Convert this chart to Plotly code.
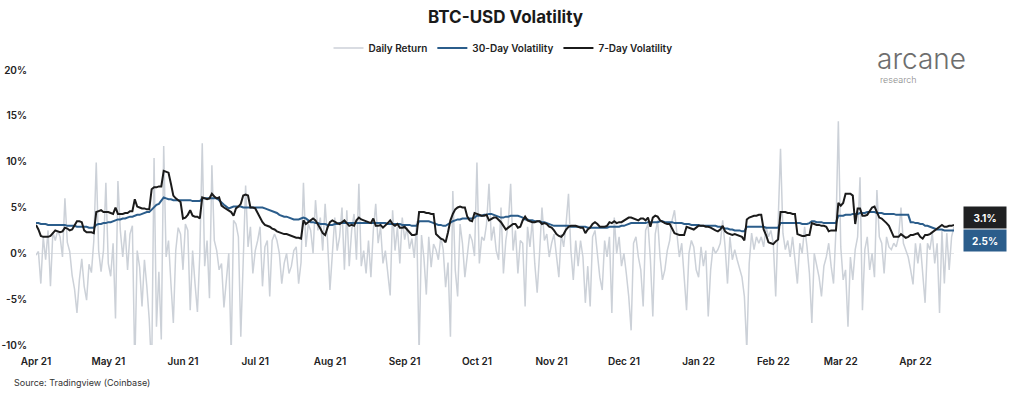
import pandas as pd
import plotly.graph_objects as go

start_date = "2021-04-01"

# Daily return (%), one value per day, Apr 2021 -> mid Apr 2022
daily_return = [
    # Apr 21
    -0.2, 0.2, -3.3, 1.8, -0.7, 2.5, -3.6, 2.3, 1.4, 2.5, 1.8, -0.4, 6.0, 1.2, 0.2,
    -2.4, -3.9, -6.5, -2.9, -0.6, -3.6, -5.1, -1.2, -2.1, 1.4, 9.9, 0.3, -2.0, 0.3, 7.7,
    # May 21
    -1.1, -2.5, 1.1, -7.1, 7.9, 2.5, -0.4, 2.5, -1.8, 2.1, 3.0, -12.5, 0.3, -1.5, -5.8,
    -0.7, -3.6, -7.2, -13.0, 10.4, -8.0, -2.0, -9.4, 11.7, -0.4, 1.4, -3.3, -7.6, 0.3, 2.8, 2.1,
    # Jun 21
    -1.8, 3.2, 2.5, -6.2, 0.3, -3.3, -6.4, 0.0, 12.0, -1.4, 1.4, -4.9, 9.6, 1.4, 0.3,
    -1.8, -1.1, -5.9, -2.9, 0.0, -11.0, 3.6, 3.2, 1.8, -9.1, -0.7, 7.4, 0.7, 2.9, -2.2,
    # Jul 21
    0.3, 1.4, 2.9, -3.6, 0.7, 1.4, -4.7, 1.4, 2.1, 1.4, 0.0, -3.3, -1.1, 0.0, -2.2,
    -1.4, 0.3, 0.7, -3.3, -1.0, 7.7, 0.7, 3.2, 2.5, 0.0, 5.8, 2.5, 3.9, 0.3, 5.4, 1.4,
    # Aug 21
    -4.0, 0.3, 3.9, 0.3, 1.8, 5.0, -1.8, 4.7, -1.4, 2.5, 4.3, -0.7, 7.6, -1.4, 0.3,
    -2.2, 1.4, -2.6, 2.5, 5.4, 1.1, 2.9, -1.1, 0.3, -2.2, -4.6, 4.7, 0.3, 2.9, -1.1, 3.9,
    # Sep 21
    1.5, 2.8, 0.5, 1.6, -0.5, 3.5, -11.0, 2.0, -0.5, -4.5, 1.8, -1.5, 1.0, 0.4, -0.7,
    1.8, 0.4, -3.7, -1.0, -9.1, 6.8, -1.8, -4.7, 3.2, 1.1, -2.6, 0.0, 2.1, 1.4, -0.3,
    # Oct 21
    9.9, -1.1, 1.8, 1.4, 3.2, 7.6, 1.4, 2.9, 0.3, -0.7, 5.0, -2.2, 1.4, 3.2, 7.6,
    0.3, 2.5, -2.2, 1.4, 1.1, -5.8, 2.9, 0.7, 3.6, -1.1, -4.3, 0.0, 5.0, 1.4, 2.1, -0.4,
    # Nov 21
    1.1, 2.1, -0.4, -2.6, 2.1, 0.7, 3.2, 6.5, 0.3, -2.9, 1.4, -1.4, 1.4, -0.4, -5.4,
    -1.4, -5.8, 1.8, 2.5, 0.0, -2.6, -4.0, 1.4, -0.4, 1.8, -6.5, 3.9, 0.0, 1.8, -1.4,
    # Dec 21
    0.0, -2.2, -4.7, -8.4, 1.1, 1.8, -0.4, -1.8, -5.8, 2.5, 3.2, -0.7, -6.9, 2.1, 3.6,
    -0.4, -2.9, -1.8, 0.3, 1.4, 3.6, 4.7, 2.1, -0.4, 1.1, -2.2, -6.2, 0.0, 1.4, 0.7, -1.8,
    # Jan 22
    -2.6, 0.7, -1.4, 0.3, -6.9, -1.8, 0.7, 0.0, 0.4, 1.1, 3.6, 0.7, -3.3, 1.8, -0.7,
    0.4, -0.7, -1.8, -2.6, -4.7, -10.5, -1.1, 2.2, 0.4, 1.8, 1.1, 1.8, 0.7, 2.9, 1.8, 2.5,
    # Feb 22
    1.1, -4.7, 3.3, 11.4, 2.2, 0.4, 1.4, -0.4, 1.8, -1.1, -3.3, 1.1, 0.0, 2.9,
    0.7, -2.2, -7.6, 0.0, -1.4, -2.6, -4.7, -1.4, -0.4, 1.1, -1.4, -3.3, 2.5, 14.4,
    # Mar 22
    0.7, -2.9, -1.8, -8.0, -0.4, -2.9, 0.4, 1.8, 8.3, -6.2, 0.4, 1.8, -1.8, 0.0, -2.6,
    6.9, 1.8, 1.1, -2.2, 1.8, 0.7, 0.4, 1.1, 0.7, 1.8, 5.0, 1.1, 0.4, -0.4, -1.8, -3.4,
    # Apr 22
    1.1, -1.1, 1.1, -2.2, -5.4, 1.1, 0.4, 2.2, -1.1, 1.1, -6.5, 2.5, -3.3, 2.2, -1.8, 1.8, 2.9,
]

# 30-day volatility (%)
vol_30d = [
    # Apr 21
    3.3, 3.3, 3.2, 3.2, 3.2, 3.1, 3.1, 3.1, 3.1, 3.1, 3.1, 3.1, 3.1, 3.0, 3.0,
    3.0, 3.0, 2.9, 2.9, 2.9, 2.9, 2.9, 2.8, 2.8, 2.8, 3.1, 3.2, 3.2, 3.3, 3.3,
    # May 21
    3.4, 3.4, 3.5, 3.6, 3.7, 3.7, 3.8, 3.8, 3.9, 4.0, 4.0, 4.1, 4.2, 4.2, 4.3,
    4.4, 4.5, 4.5, 4.8, 5.1, 5.3, 5.4, 5.8, 6.1, 6.0, 5.9, 5.9, 5.8, 5.8, 5.8, 5.8,
    # Jun 21
    5.8, 5.8, 5.8, 5.8, 5.7, 5.7, 5.7, 5.7, 6.0, 6.0, 6.0, 6.0, 6.0, 6.0, 6.0,
    5.8, 5.5, 5.3, 5.1, 4.9, 5.0, 5.1, 5.1, 5.1, 5.1, 5.0, 5.0, 5.0, 5.0, 5.0,
    # Jul 21
    5.0, 5.0, 5.0, 5.0, 4.9, 4.8, 4.7, 4.6, 4.5, 4.4, 4.2, 4.1, 4.0, 4.0, 3.9,
    3.8, 3.7, 3.7, 3.7, 3.8, 3.9, 3.8, 3.6, 3.4, 3.4, 3.3, 3.3, 3.2, 3.2, 3.2, 3.1,
    # Aug 21
    3.1, 3.1, 3.2, 3.2, 3.3, 3.3, 3.3, 3.3, 3.3, 3.3, 3.3, 3.3, 3.3, 3.3, 3.3,
    3.3, 3.3, 3.3, 3.3, 3.3, 3.3, 3.3, 3.3, 3.3, 3.2, 3.2, 3.2, 3.2, 3.2, 3.2, 3.1,
    # Sep 21
    3.1, 3.1, 3.1, 3.0, 3.0, 3.0, 3.5, 3.5, 3.5, 3.5, 3.5, 3.4, 3.3, 3.2, 3.1,
    3.1, 3.0, 3.0, 3.2, 3.4, 3.5, 3.6, 3.7, 3.7, 3.8, 3.8, 3.8, 3.8, 3.8, 3.9,
    # Oct 21
    4.1, 4.1, 4.1, 4.2, 4.2, 4.3, 4.3, 4.2, 4.1, 4.0, 3.9, 3.9, 4.0, 4.0, 4.1,
    4.1, 4.1, 4.1, 4.0, 3.9, 3.7, 3.7, 3.6, 3.6, 3.5, 3.5, 3.5, 3.4, 3.4, 3.3, 3.2,
    # Nov 21
    3.1, 3.0, 3.0, 3.0, 3.0, 3.0, 3.0, 3.0, 2.9, 2.9, 2.9, 2.9, 2.9, 2.9, 2.9,
    2.8, 2.8, 2.8, 2.8, 2.8, 2.8, 2.8, 2.8, 2.8, 2.9, 2.9, 2.9, 2.9, 2.9, 3.0,
    # Dec 21
    3.0, 3.1, 3.2, 3.3, 3.3, 3.3, 3.3, 3.3, 3.3, 3.3, 3.4, 3.4, 3.4, 3.4, 3.4,
    3.5, 3.5, 3.4, 3.4, 3.4, 3.4, 3.3, 3.3, 3.3, 3.3, 3.2, 3.2, 3.2, 3.1, 3.1, 3.1,
    # Jan 22
    3.1, 3.0, 3.0, 3.0, 3.0, 3.0, 3.0, 3.0, 2.9, 2.9, 2.8, 2.7, 2.7, 2.6, 2.6,
    2.5, 2.5, 2.5, 2.4, 2.4, 2.9, 2.9, 2.9, 2.9, 2.9, 2.9, 2.9, 2.9, 2.8, 2.8, 2.8,
    # Feb 22
    2.8, 2.8, 2.8, 3.3, 3.3, 3.3, 3.3, 3.3, 3.3, 3.3, 3.3, 3.3, 3.2, 3.2,
    3.2, 3.3, 3.5, 3.5, 3.4, 3.4, 3.4, 3.3, 3.3, 3.3, 3.3, 3.3, 3.3, 4.1,
    # Mar 22
    4.1, 4.1, 4.2, 4.2, 4.2, 4.3, 4.3, 4.3, 4.4, 4.4, 4.4, 4.5, 4.5, 4.5, 4.5,
    4.4, 4.4, 4.4, 4.3, 4.3, 4.3, 4.3, 4.3, 4.2, 4.2, 4.2, 4.2, 4.2, 4.2, 3.4, 3.4,
    # Apr 22
    3.3, 3.3, 3.2, 3.2, 3.0, 3.0, 2.9, 2.8, 2.7, 2.6, 2.6, 2.6, 2.5, 2.5, 2.5, 2.5, 2.5,
]

# 7-day volatility (%)
vol_7d = [
    # Apr 21
    3.1, 2.6, 1.9, 1.8, 1.8, 1.8, 1.9, 2.2, 2.5, 2.4, 2.3, 2.4, 2.8, 2.7, 2.5,
    2.6, 3.0, 3.5, 3.5, 3.4, 2.5, 2.3, 2.3, 2.3, 2.2, 4.5, 4.6, 4.7, 4.5, 4.5,
    # May 21
    4.5, 4.4, 4.3, 5.0, 4.3, 4.3, 4.3, 4.4, 4.4, 4.6, 4.6, 5.9, 5.1, 5.0, 4.9,
    4.9, 4.8, 4.8, 7.0, 7.2, 7.2, 7.3, 7.3, 9.0, 8.9, 8.8, 7.6, 6.3, 6.0, 5.8, 5.6,
    # Jun 21
    3.8, 3.9, 4.2, 4.7, 4.1, 4.0, 4.0, 3.8, 6.1, 6.0, 5.9, 6.0, 6.5, 6.2, 6.0,
    6.1, 5.2, 5.0, 4.8, 4.7, 4.5, 4.1, 4.9, 5.1, 5.4, 6.3, 6.4, 6.3, 5.0, 5.0,
    # Jul 21
    4.9, 4.4, 3.9, 3.4, 3.1, 3.0, 2.9, 2.7, 2.6, 2.4, 2.3, 2.2, 2.1, 2.1, 2.0,
    1.9, 1.8, 1.7, 1.7, 1.6, 3.6, 3.2, 3.4, 3.6, 3.8, 3.6, 3.2, 2.7, 2.2, 2.0, 2.8,
    # Aug 21
    3.4, 3.6, 3.4, 3.3, 3.2, 3.4, 3.6, 3.3, 3.0, 3.1, 3.0, 3.6, 3.9, 3.7, 3.6,
    3.5, 3.4, 3.3, 3.8, 3.0, 3.0, 3.1, 2.8, 3.0, 3.3, 3.6, 3.2, 3.0, 3.2, 2.8, 2.8,
    # Sep 21
    2.9, 2.6, 2.3, 2.0, 2.0, 2.1, 4.5, 4.5, 4.5, 4.4, 4.4, 4.3, 4.3, 2.1, 1.8,
    1.6, 1.5, 1.2, 2.3, 3.6, 4.3, 4.8, 5.0, 5.1, 5.0, 5.0, 4.0, 3.6, 3.5, 4.4,
    # Oct 21
    4.3, 4.2, 4.1, 4.1, 4.2, 3.6, 3.8, 3.9, 3.9, 3.7, 3.4, 3.0, 2.6, 2.8, 3.0,
    3.2, 3.2, 2.8, 2.9, 3.6, 4.0, 3.6, 3.5, 3.4, 3.4, 3.5, 3.5, 3.2, 3.3, 3.2, 2.9,
    # Nov 21
    2.8, 2.5, 2.1, 1.9, 1.8, 2.1, 2.6, 2.9, 3.0, 3.0, 3.0, 2.9, 2.8, 2.8, 2.2,
    2.6, 2.8, 3.2, 3.4, 3.2, 2.9, 2.9, 2.9, 3.0, 3.4, 3.3, 3.5, 3.3, 3.4, 3.4,
    # Dec 21
    3.6, 3.7, 3.9, 3.9, 3.8, 3.7, 3.6, 3.8, 3.8, 3.6, 3.9, 2.9, 3.9, 4.1, 4.0,
    3.6, 3.4, 3.3, 3.2, 3.2, 2.7, 2.2, 2.1, 2.0, 2.0, 2.0, 2.9, 2.8, 2.7, 2.6, 2.8,
    # Jan 22
    3.0, 3.0, 3.0, 2.9, 2.9, 2.8, 2.6, 2.5, 2.4, 2.6, 3.0, 2.4, 2.2, 2.1, 2.0,
    2.1, 2.0, 1.9, 1.8, 1.4, 3.7, 3.9, 4.0, 4.1, 4.1, 4.2, 4.2, 2.6, 2.0, 1.2, 1.1,
    # Feb 22
    1.0, 1.3, 1.5, 4.5, 4.5, 4.5, 4.4, 4.4, 4.3, 4.3, 2.1, 2.0, 1.9, 1.9,
    2.0, 2.0, 3.3, 3.2, 3.1, 3.1, 3.0, 3.0, 2.9, 2.4, 2.5, 2.5, 2.5, 5.5,
    # Mar 22
    5.2, 5.5, 6.5, 6.5, 6.5, 6.3, 3.2, 4.9, 4.9, 4.1, 4.1, 4.2, 4.6, 5.0, 5.1,
    4.4, 3.9, 3.8, 3.6, 3.3, 3.0, 2.4, 1.8, 1.8, 1.8, 2.1, 1.9, 1.7, 1.8, 2.0, 2.0,
    # Apr 22
    2.1, 2.2, 1.8, 1.6, 2.0, 2.0, 2.1, 2.3, 2.5, 2.6, 2.8, 3.1, 2.9, 2.9, 3.0, 3.0, 3.1,
]

series_names = ["Daily Return", "30-Day Volatility", "7-Day Volatility"]
last_labels = ["3.1%", "2.5%"]
y_ticks = [-10, -5, 0, 5, 10, 15, 20]
y_tick_text = ["-10%", "-5%", "0%", "5%", "10%", "15%", "20%"]

GRAY = "#ccd1d8"
BLUE = "#2b5d8b"
BLACK = "#1b1b1b"
FONT = "Inter"

W, H = 1011, 393
L, R, T, B = 36, 57, 70, 48
PW, PH = W - L - R, H - T - B


def dates_for(values):
    return pd.date_range(start_date, periods=len(values), freq="D")


def px_x(x):
    return (x - L) / PW


def px_y(y):
    return (H - B - y) / PH


fig = go.Figure()
fig.add_trace(go.Scatter(x=dates_for(daily_return), y=daily_return, mode="lines",
                         name=series_names[0], line=dict(color=GRAY, width=1.5)))
fig.add_trace(go.Scatter(x=dates_for(vol_30d), y=vol_30d, mode="lines",
                         name=series_names[1], line=dict(color=BLUE, width=2)))
fig.add_trace(go.Scatter(x=dates_for(vol_7d), y=vol_7d, mode="lines",
                         name=series_names[2], line=dict(color=BLACK, width=2)))

all_dates = dates_for(daily_return)

fig.update_layout(
    width=W, height=H,
    margin=dict(l=L, r=R, t=T, b=B, autoexpand=False),
    paper_bgcolor="white", plot_bgcolor="white",
    title=dict(text="<b>BTC-USD Volatility</b>", x=0.5, xanchor="center",
               xref="container", yref="container",
               y=1 - 17 / H, yanchor="middle",
               font=dict(family=FONT, size=17, color="#1a1a1a")),
    legend=dict(orientation="h", xref="container", yref="container",
                x=503 / W, xanchor="center", y=1 - 48 / H, yanchor="middle",
                font=dict(family=FONT, size=10, color="#222222", weight=600),
                itemwidth=30, bgcolor="rgba(0,0,0,0)", traceorder="normal"),
    showlegend=True,
    xaxis=dict(type="date", range=[all_dates[0], all_dates[-1]],
               tickformat="%b %y", dtick="M1", tick0=start_date,
               showgrid=False, zeroline=False, showline=False, ticks="",
               automargin=False, ticklabelstandoff=9,
               tickfont=dict(family=FONT, size=10, color="#222222", weight=600)),
    yaxis=dict(range=[-10, 20], tickmode="array", tickvals=y_ticks, ticktext=y_tick_text,
               showgrid=False, zeroline=True, zerolinecolor="#e1e3e6", zerolinewidth=1,
               showline=False, ticks="", ticklabelstandoff=8, automargin=False,
               tickfont=dict(family=FONT, size=10, color="#222222", weight=600)),
)

# value boxes at right edge
fig.add_annotation(xref="paper", yref="paper", x=px_x(963), y=px_y(217.5),
                   xanchor="left", yanchor="middle", text="<b>" + last_labels[0] + "</b>",
                   showarrow=False, bgcolor="#1f2022", width=36, height=15, borderpad=3,
                   font=dict(family=FONT, size=10, color="white"))
fig.add_annotation(xref="paper", yref="paper", x=px_x(963), y=px_y(240),
                   xanchor="left", yanchor="middle", text="<b>" + last_labels[1] + "</b>",
                   showarrow=False, bgcolor=BLUE, width=36, height=15, borderpad=3,
                   font=dict(family=FONT, size=10, color="white"))

# logo text
fig.add_annotation(xref="paper", yref="paper", x=px_x(875), y=px_y(59),
                   xanchor="left", yanchor="middle", text="arcane", showarrow=False,
                   font=dict(family=FONT, size=28, color="#6e6e6e", weight=300))
fig.add_annotation(xref="paper", yref="paper", x=px_x(878), y=px_y(79),
                   xanchor="left", yanchor="middle", text="research", showarrow=False,
                   font=dict(family=FONT, size=9, color="#8a8a8a", weight=300))

# source
fig.add_annotation(xref="paper", yref="paper", x=px_x(12), y=px_y(382),
                   xanchor="left", yanchor="middle", text="Source: Tradingview (Coinbase)",
                   showarrow=False, font=dict(family=FONT, size=9, color="#333333"))

fig.write_html("out.html", config={"displayModeBar": False},
               post_script="document.body.style.margin='0px';")
